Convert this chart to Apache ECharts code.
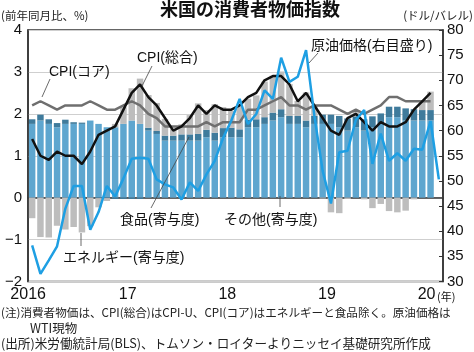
<!DOCTYPE html>
<html lang="ja">
<head>
<meta charset="UTF-8">
<title>米国の消費者物価指数</title>
<script src="https://cdn.jsdelivr.net/npm/echarts@6/dist/echarts.min.js"></script>
<style>
  * { margin: 0; padding: 0; }
  body { background: #fff; }
  #main { width: 474px; height: 352px; }
</style>
</head>
<body>
<div id="main"></div>
<script>
  // 年ラベル（1月の位置に表示）
  var yearLabels = ['2016', '17', '18', '19', '20'];

  // 2016年1月～2020年2月（月次）
  var months = [];
  for (var y = 2016; y <= 2020; y++) {
    for (var m = 1; m <= 12; m++) {
      if (months.length < 50) months.push(y + '/' + m);
    }
  }

  // CPI（総合） 前年同月比 %
  var cpiTotal = [
    1.4, 1.0, 0.9, 1.1, 1.0, 1.0, 0.8, 1.1, 1.5, 1.6, 1.7, 2.1,
    2.5, 2.7, 2.4, 2.2, 1.9, 1.6, 1.7, 1.9, 2.2, 2.0, 2.2, 2.1,
    2.1, 2.2, 2.4, 2.5, 2.8, 2.9, 2.9, 2.7, 2.3, 2.5, 2.2, 1.9,
    1.6, 1.5, 1.9, 2.0, 1.8, 1.6, 1.8, 1.7, 1.7, 1.8, 2.1, 2.3,
    2.5
  ];
  // CPI（コア）
  var cpiCore = [
    2.2, 2.3, 2.2, 2.1, 2.2, 2.2, 2.2, 2.3, 2.2, 2.1, 2.1, 2.2,
    2.3, 2.2, 2.0, 1.9, 1.7, 1.7, 1.7, 1.7, 1.7, 1.8, 1.7, 1.8,
    1.8, 1.8, 2.1, 2.1, 2.2, 2.3, 2.4, 2.2, 2.2, 2.1, 2.2, 2.2,
    2.2, 2.1, 2.0, 2.1, 2.0, 2.1, 2.2, 2.4, 2.4, 2.3, 2.3, 2.3,
    2.3
  ];
  // その他（寄与度）
  var otherContrib = [
    1.76, 1.84, 1.76, 1.68, 1.76, 1.76, 1.76, 1.84, 1.76, 1.68, 1.68, 1.76,
    1.84, 1.76, 1.60, 1.52, 1.36, 1.36, 1.36, 1.36, 1.36, 1.44, 1.36, 1.44,
    1.44, 1.44, 1.68, 1.68, 1.76, 1.84, 1.92, 1.76, 1.76, 1.68, 1.76, 1.76,
    1.76, 1.68, 1.60, 1.68, 1.60, 1.68, 1.76, 1.92, 1.92, 1.84, 1.84, 1.84,
    1.84
  ];
  // 食品（寄与度）
  var foodContrib = [
    0.11, 0.14, 0.11, 0.10, 0.10, 0.04, 0.03, 0.00, -0.01, -0.01, -0.03, -0.03,
    -0.03, -0.03, 0.07, 0.07, 0.12, 0.12, 0.15, 0.15, 0.16, 0.18, 0.19, 0.22,
    0.23, 0.19, 0.18, 0.19, 0.16, 0.19, 0.19, 0.19, 0.19, 0.16, 0.19, 0.22,
    0.22, 0.27, 0.29, 0.26, 0.27, 0.26, 0.25, 0.25, 0.25, 0.29, 0.27, 0.25,
    0.25
  ];
  // エネルギー（寄与度）
  var energyContrib = [
    -0.49, -0.94, -0.95, -0.67, -0.76, -0.70, -0.83, -0.68, -0.22, -0.07, 0.08, 0.40,
    0.77, 1.08, 0.78, 0.67, 0.40, 0.17, 0.24, 0.46, 0.73, 0.47, 0.68, 0.50,
    0.40, 0.55, 0.50, 0.57, 0.85, 0.88, 0.90, 0.76, 0.36, 0.67, 0.24, -0.02,
    -0.35, -0.37, -0.03, 0.13, -0.04, -0.25, -0.15, -0.32, -0.35, -0.31, -0.04, 0.24,
    0.44
  ];
  // 原油価格（WTI、ドル/バレル、右目盛り）
  var oilPrice = [
    37.2, 31.5, 34.2, 37.0, 44.5, 49.0, 49.0, 40.3, 43.8, 49.0, 46.9, 50.5,
    54.4, 54.6, 54.4, 50.3, 49.3, 48.7, 46.3, 49.7, 48.0, 51.3, 54.0, 58.5,
    62.0, 66.3, 61.3, 63.3, 68.0, 66.3, 74.5, 69.7, 70.7, 76.0, 63.0, 52.0,
    45.5, 55.7, 56.0, 62.1, 64.1, 53.4, 59.4, 54.0, 55.5, 54.0, 56.4, 56.2,
    61.9, 50.3
  ];

  var jpFont = '"Liberation Sans", "Noto Sans CJK JP", sans-serif';
  var noteFont = '11.6px "Noto Sans CJK JP"';
  var annFont = '14px ' + jpFont;
  var barW = '78%';

  var myChart = echarts.init(document.getElementById('main'));

  // 注記テキスト＋引き出し線
  function label(text, x, y) {
    return { type: 'text', x: x, y: y, z: 10,
      style: { text: text, font: annFont, fill: '#111', textVerticalAlign: 'middle' } };
  }
  function leader(x1, y1, x2, y2) {
    return { type: 'line', z: 10, shape: { x1: x1, y1: y1, x2: x2, y2: y2 },
      style: { stroke: '#444', lineWidth: 0.8 } };
  }

  var option = {
    animation: false,
    textStyle: { fontFamily: jpFont },
    grid: {
      left: 28, right: 31, top: 30, bottom: 70.5,
      show: true, borderColor: '#333', borderWidth: 1.5
    },
    xAxis: {
      type: 'category',
      data: months,
      axisLine: { lineStyle: { color: '#333', width: 1.5 } },
      axisTick: {
        inside: true, length: 4,
        interval: function (i) { return i % 12 === 0; },
        lineStyle: { color: '#333' }
      },
      axisLabel: {
        interval: function (i) { return i % 12 === 0; },
        formatter: function (v, i) { return yearLabels[i / 12]; },
        color: '#111', fontSize: 16, margin: 5,
        padding: [0, 8, 0, 0]
      }
    },
    yAxis: [
      {
        type: 'value', min: -2, max: 4, interval: 1,
        axisLine: { show: true, lineStyle: { color: '#333', width: 1.5 } },
        axisTick: { show: false },
        splitLine: { lineStyle: { color: '#cfcfcf', width: 1 } },
        axisLabel: {
          color: '#111', fontSize: 15, margin: 6,
          formatter: function (v) { return String(v).replace('-', '−'); }
        }
      },
      {
        type: 'value', min: 30, max: 80, interval: 5,
        position: 'right',
        axisLine: { show: true, lineStyle: { color: '#333', width: 1.5 } },
        axisTick: { show: true, inside: true, length: 4, lineStyle: { color: '#333' } },
        splitLine: { show: false },
        axisLabel: { color: '#111', fontSize: 15, margin: 4 }
      }
    ],
    series: [
      {
        name: 'その他', type: 'bar', stack: 'c', barWidth: barW,
        data: otherContrib, itemStyle: { color: '#5ea6cf' }
      },
      {
        name: '食品', type: 'bar', stack: 'c', barWidth: barW,
        data: foodContrib, itemStyle: { color: '#3f7b9c' }
      },
      {
        name: 'エネルギー', type: 'bar', stack: 'c', barWidth: barW,
        data: energyContrib, itemStyle: { color: '#bdbdbd' }
      },
      {
        name: 'CPI(コア)', type: 'line', data: cpiCore, symbol: 'none',
        lineStyle: { color: '#6f6f6f', width: 2.5 }
      },
      {
        name: 'CPI(総合)', type: 'line', data: cpiTotal, symbol: 'none',
        lineStyle: { color: '#111', width: 2.5 }
      },
      {
        name: '原油価格', type: 'line', yAxisIndex: 1, data: oilPrice, symbol: 'none',
        lineStyle: { color: '#1e9fe3', width: 2.5 }
      }
    ],
    graphic: [
      // タイトル・単位
      { type: 'text', x: 250, y: 0,
        style: { text: '米国の消費者物価指数', font: 'bold 18px "Noto Sans CJK JP"', fill: '#111', textAlign: 'center' } },
      { type: 'text', x: 1, y: 16,
        style: { text: '(前年同月比、%)', font: '11.5px "Noto Sans CJK JP"', fill: '#222', textVerticalAlign: 'middle' } },
      { type: 'text', x: 473, y: 16,
        style: { text: '(ドル/バレル)', font: '11.5px "Noto Sans CJK JP"', fill: '#222', textAlign: 'right', textVerticalAlign: 'middle' } },
      { type: 'text', x: 437, y: 297,
        style: { text: '(年)', font: '11px "Noto Sans CJK JP"', fill: '#111', textVerticalAlign: 'middle' } },

      // 系列の注記
      label('CPI(コア)', 49, 72), leader(50, 79, 42, 97),
      label('CPI(総合)', 137, 58), leader(152, 66, 142, 86),
      label('原油価格(右目盛り)', 311, 46), leader(318, 53, 309, 63),
      label('食品(寄与度)', 120, 220), leader(189, 137, 151, 208),
      label('その他(寄与度)', 224, 220), leader(280, 196, 280, 207),
      label('エネルギー(寄与度)', 63, 258), leader(81, 233, 81, 246),

      // 注・出所
      { type: 'text', x: 1, y: 313,
        style: { text: '(注)消費者物価は、CPI(総合)はCPI-U、CPI(コア)はエネルギーと食品除く。原油価格は', font: noteFont, fill: '#222', textVerticalAlign: 'middle' } },
      { type: 'text', x: 30, y: 328,
        style: { text: 'WTI現物', font: '12.5px "Noto Sans CJK JP"', fill: '#222', textVerticalAlign: 'middle' } },
      { type: 'text', x: 1, y: 343,
        style: { text: '(出所)米労働統計局(BLS)、トムソン・ロイターよりニッセイ基礎研究所作成', font: '12.6px "Noto Sans CJK JP"', fill: '#222', textVerticalAlign: 'middle' } }
    ]
  };

  myChart.setOption(option);
</script>
</body>
</html>
